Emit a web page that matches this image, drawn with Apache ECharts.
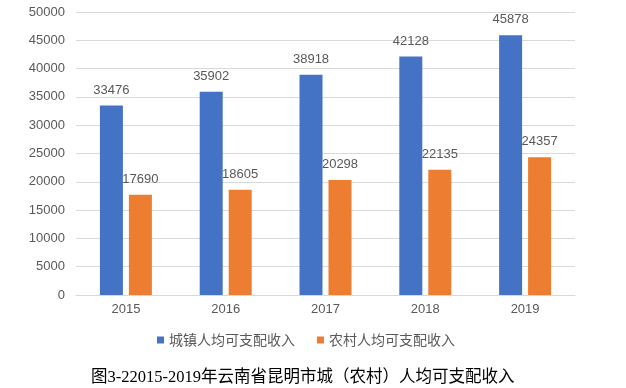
<!DOCTYPE html>
<html><head><meta charset="utf-8">
<script src="https://cdn.jsdelivr.net/npm/echarts@6/dist/echarts.min.js"></script>
<style>html,body{margin:0;padding:0;background:#fff}#c{width:626px;height:388px}</style>
</head><body><div id="c"></div>
<script>
const categories = ['2015','2016','2017','2018','2019'];
const urbanIncome = [33476, 35902, 38918, 42128, 45878];
const ruralIncome = [17690, 18605, 20298, 22135, 24357];
const seriesNames = ['城镇人均可支配收入','农村人均可支配收入'];
const titleText = '图3-22015-2019年云南省昆明市城（农村）人均可支配收入';

const chart = echarts.init(document.getElementById('c'));
chart.setOption({
  animation: false,
  textStyle: {fontFamily: 'Noto Sans CJK SC, sans-serif'},
  title: {
    text: titleText, left: 86, top: 364,
    textStyle: {fontSize: 16.5, fontWeight: 'normal', color: '#000', fontFamily: 'Liberation Serif, Noto Sans CJK SC, serif'}
  },
  legend: {
    data: seriesNames, top: 328, left: 152, itemWidth: 7, itemHeight: 7, itemGap: 22,
    icon: 'rect',
    textStyle: {fontSize: 14, color: '#595959', fontFamily: 'Noto Sans CJK SC'}
  },
  grid: {left: 76, right: 51, top: 12, bottom: 93},
  xAxis: {
    type: 'category', data: categories,
    axisLine: {lineStyle: {color: '#d9d9d9'}},
    axisTick: {show: false},
    axisLabel: {fontSize: 13, color: '#595959', margin: 8, fontFamily: 'Liberation Sans, sans-serif'}
  },
  yAxis: {
    type: 'value', min: 0, max: 50000, interval: 5000,
    axisLine: {show: false}, axisTick: {show: false},
    axisLabel: {fontSize: 13, color: '#595959', margin: 11, fontFamily: 'Liberation Sans, sans-serif',
      formatter: v => String(v)},
    splitLine: {lineStyle: {color: '#d9d9d9'}}
  },
  series: [
    {name: seriesNames[0], type: 'bar', data: urbanIncome, barWidth: 23, barGap: '26%',
     itemStyle: {color: '#4472C4'},
     label: {show: true, position: 'top', distance: 9, fontSize: 13, color: '#595959', fontFamily: 'Liberation Sans, sans-serif'}},
    {name: seriesNames[1], type: 'bar', data: ruralIncome, barWidth: 23,
     itemStyle: {color: '#ED7D31'},
     label: {show: true, position: 'top', distance: 9, fontSize: 13, color: '#595959', fontFamily: 'Liberation Sans, sans-serif'}}
  ]
});
</script></body></html>
